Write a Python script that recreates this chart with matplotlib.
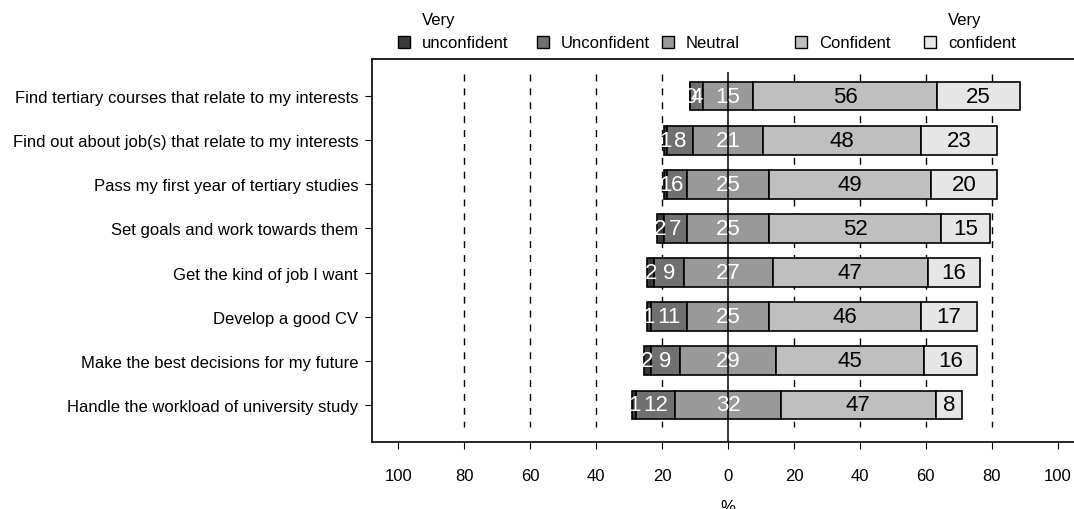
import numpy as np
import matplotlib.pyplot as plt
from matplotlib.patches import Rectangle

plt.rcParams['font.family'] = ['Liberation Sans', 'DejaVu Sans']

# Survey items, top to bottom
items = [
    'Find tertiary courses that relate to my interests',
    'Find out about job(s) that relate to my interests',
    'Pass my first year of tertiary studies',
    'Set goals and work towards them',
    'Get the kind of job I want',
    'Develop a good CV',
    'Make the best decisions for my future',
    'Handle the workload of university study',
]

# Percent per response level
very_unconf = [0, 1, 1, 2, 2, 1, 2, 1]
unconf = [4, 8, 6, 7, 9, 11, 9, 12]
neutral = [15, 21, 25, 25, 27, 25, 29, 32]
conf = [56, 48, 49, 52, 47, 46, 45, 47]
very_conf = [25, 23, 20, 15, 16, 17, 16, 8]

levels = ['Very\nunconfident', 'Unconfident', 'Neutral', 'Confident', 'Very\nconfident']
colors = ['#3a3a3a', '#707070', '#999999', '#bfbfbf', '#e6e6e6']
txt_colors = ['white', 'white', 'white', 'black', 'black']
ticks = [-100, -80, -60, -40, -20, 0, 20, 40, 60, 80, 100]

fig = plt.figure(figsize=(10.74, 5.1), dpi=100)
ax = fig.add_axes([0.3464, 0.1314, 0.663, 0.751])

data = np.array([very_unconf, unconf, neutral, conf, very_conf], dtype=float)
y = np.arange(len(items))

# Neutral is split across zero, so each bar starts at -(vu + u + n/2)
start = -(data[0] + data[1] + data[2] / 2)
left = start.copy()
for k in range(5):
    ax.barh(y, data[k], left=left, height=0.65, color=colors[k],
            edgecolor='black', linewidth=1.2, zorder=2)
    for i in range(len(items)):
        ax.text(left[i] + data[k][i] / 2, y[i], '%d' % data[k][i],
                ha='center', va='center', fontsize=16,
                color=txt_colors[k], zorder=4)
    left = left + data[k]

# Dashed reference lines behind the bars, solid zero line on top
for t in [-80, -60, -40, -20, 20, 40, 60, 80]:
    ax.vlines(t, -0.5, 7.5, colors='black', linestyles=(0, (5, 5)),
              linewidth=1, zorder=1)
ax.vlines(0, -0.55, 7.9, colors='black', linewidth=1.1, zorder=3)

ax.set_xlim(-108, 108)
ax.set_ylim(7.84, -0.84)
ax.set_yticks(y)
ax.set_yticklabels(items, fontsize=12)
ax.set_xticks(ticks)
ax.set_xticklabels([str(abs(t)) for t in ticks], fontsize=12)
ax.tick_params(axis='x', length=5, pad=14)
ax.tick_params(axis='y', length=5, pad=5)
ax.set_xlabel('%', fontsize=12, labelpad=11)
for s in ax.spines.values():
    s.set_linewidth(1.2)

# Hand-placed legend across the top
sq_x = [404, 543, 668, 801, 930]
for k in range(5):
    x0 = sq_x[k] / 1074
    fig.patches.append(Rectangle((x0 - 6 / 1074, 1 - 49 / 510), 12 / 1074, 12 / 510,
                                 transform=fig.transFigure, facecolor=colors[k],
                                 edgecolor='black', linewidth=1))
    lines = levels[k].split('\n')
    tx = (sq_x[k] + 18) / 1074
    fig.text(tx, 1 - 43 / 510, lines[-1], ha='left', va='center', fontsize=12)
    if len(lines) > 1:
        fig.text(tx, 1 - 21 / 510, lines[0], ha='left', va='center', fontsize=12)

fig.savefig('out.png', dpi=100)
